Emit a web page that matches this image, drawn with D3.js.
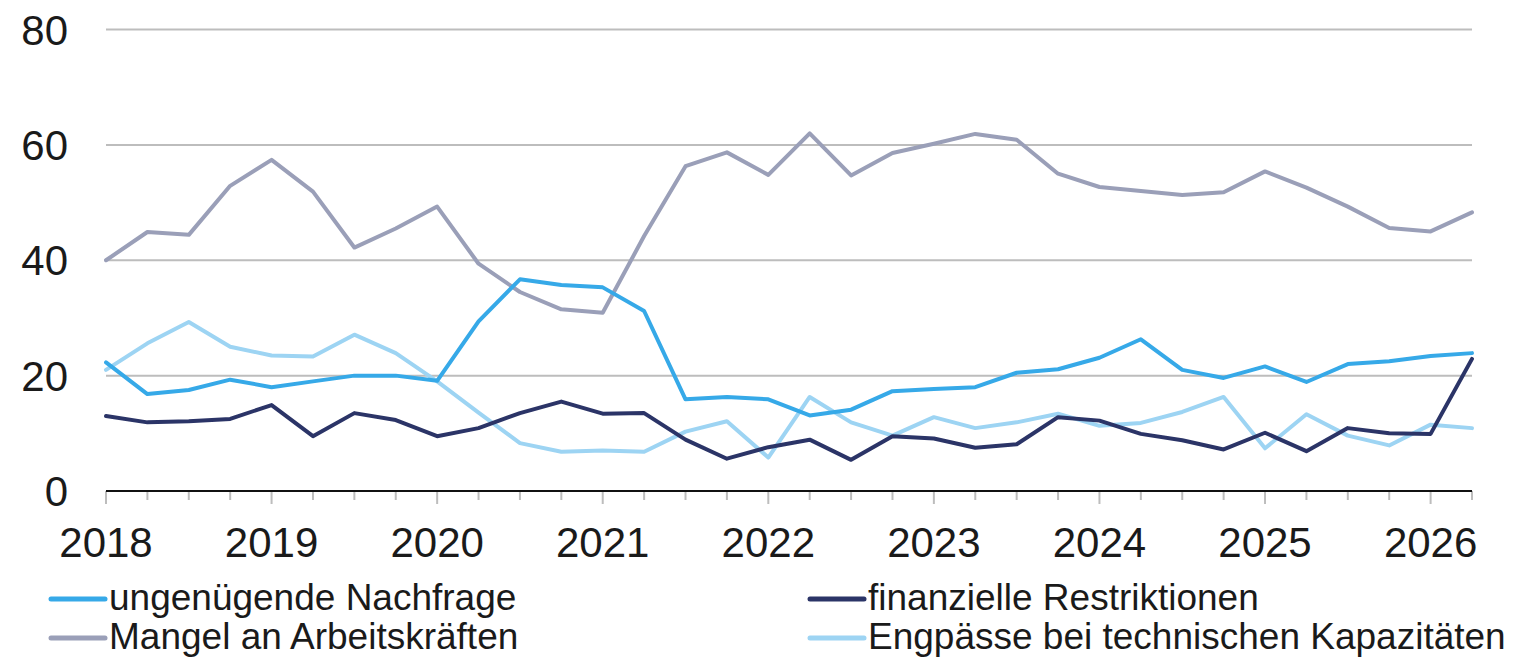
<!DOCTYPE html>
<html><head><meta charset="utf-8">
<script src="https://cdn.jsdelivr.net/npm/d3@7"></script>
<style>body{margin:0;background:#fff}svg{display:block}text{font-family:"Liberation Sans",Arial,sans-serif;fill:#1a1a1a}</style>
</head><body>
<svg id="c" width="1515" height="658"></svg>
<script>
const yearLabels = ["2018","2019","2020","2021","2022","2023","2024","2025","2026"];
const yTicks = [0,20,40,60,80];
const seriesNames = ["ungenügende Nachfrage","finanzielle Restriktionen","Mangel an Arbeitskräften","Engpässe bei technischen Kapazitäten"];
const seriesColors = ["#36a9e8","#2b3467","#9a9fb8","#9dd4f3"];
// quarterly values 2018Q1 .. 2026Q2
const nachfrage = [22.3,16.8,17.5,19.3,18.0,19.0,20.0,20.0,19.1,29.4,36.7,35.7,35.3,31.2,15.9,16.3,15.9,13.1,14.1,17.3,17.7,18.0,20.5,21.1,23.1,26.3,21.0,19.6,21.6,18.9,22.0,22.5,23.4,23.9];
const finanziell = [13.0,11.9,12.1,12.5,14.9,9.5,13.5,12.3,9.5,10.9,13.5,15.5,13.4,13.5,8.9,5.6,7.6,8.9,5.4,9.5,9.1,7.5,8.1,12.8,12.2,9.9,8.8,7.2,10.1,6.9,10.9,10.0,9.9,22.9];
const arbeitskraefte = [40.0,44.9,44.4,52.9,57.4,51.9,42.2,45.5,49.3,39.4,34.5,31.5,30.9,44.2,56.3,58.7,54.8,62.0,54.7,58.6,60.2,61.9,60.9,55.0,52.7,52.0,51.3,51.8,55.4,52.6,49.3,45.6,45.0,48.3];
const kapazitaeten = [21.0,25.6,29.3,25.0,23.5,23.3,27.1,23.9,19.0,13.6,8.3,6.8,7.0,6.8,10.3,12.1,5.8,16.3,11.9,9.6,12.8,10.9,11.9,13.4,11.3,11.8,13.7,16.3,7.4,13.3,9.6,7.9,11.5,10.9];

const allSeries = [nachfrage, finanziell, arbeitskraefte, kapazitaeten];
const svg = d3.select("#c");
const x0 = 106, x1 = 1472;
const x = d3.scaleLinear().domain([2018, 2026.25]).range([x0, x1]);
const y = d3.scaleLinear().domain([0, 80]).range([491, 29.5]);
const t = i => 2018 + i / 4;

// gridlines
svg.append("g").selectAll("line").data(yTicks.filter(v => v > 0)).join("line")
  .attr("x1", x0).attr("x2", x1).attr("y1", d => y(d)).attr("y2", d => y(d))
  .attr("stroke", "#bdbdbd").attr("stroke-width", 2);

// y labels
svg.append("g").selectAll("text").data(yTicks).join("text")
  .attr("x", 68).attr("y", d => y(d)).attr("dy", "0.36em")
  .attr("text-anchor", "end").attr("font-size", 42).text(d => d);

// quarter ticks
const quarters = d3.range(0, 34).map(t);
svg.append("g").selectAll("line").data(quarters).join("line")
  .attr("x1", d => x(d)).attr("x2", d => x(d))
  .attr("y1", 491).attr("y2", (d, i) => i % 4 === 0 ? 504 : 500)
  .attr("stroke", "#bdbdbd").attr("stroke-width", 2);

// axis line
svg.append("line").attr("x1", x0).attr("x2", x1).attr("y1", 491).attr("y2", 491)
  .attr("stroke", "#111").attr("stroke-width", 2.2);

// x labels
svg.append("g").selectAll("text").data(yearLabels).join("text")
  .attr("x", d => x(+d)).attr("y", 557).attr("text-anchor", "middle")
  .attr("font-size", 42).text(d => d);

// lines
const line = d3.line().x((d, i) => x(t(i))).y(d => y(d));
const order = [2, 3, 1, 0];
order.forEach(k => {
  svg.append("path").attr("d", line(allSeries[k])).attr("fill", "none")
    .attr("stroke", seriesColors[k]).attr("stroke-width", 4)
    .attr("stroke-linejoin", "round").attr("stroke-linecap", "round");
});

// legend
const legPos = [[51, 599], [810, 599], [51, 638], [810, 638]];
const legOrder = [0, 1, 2, 3];
legOrder.forEach((k, j) => {
  const [lx, ly] = legPos[j];
  svg.append("line").attr("x1", lx).attr("x2", lx + 54).attr("y1", ly).attr("y2", ly)
    .attr("stroke", seriesColors[k]).attr("stroke-width", 5).attr("stroke-linecap", "round");
  svg.append("text").attr("x", lx + 58).attr("y", ly + 11).attr("font-size", 37).text(seriesNames[k]);
});
</script>
</body></html>
